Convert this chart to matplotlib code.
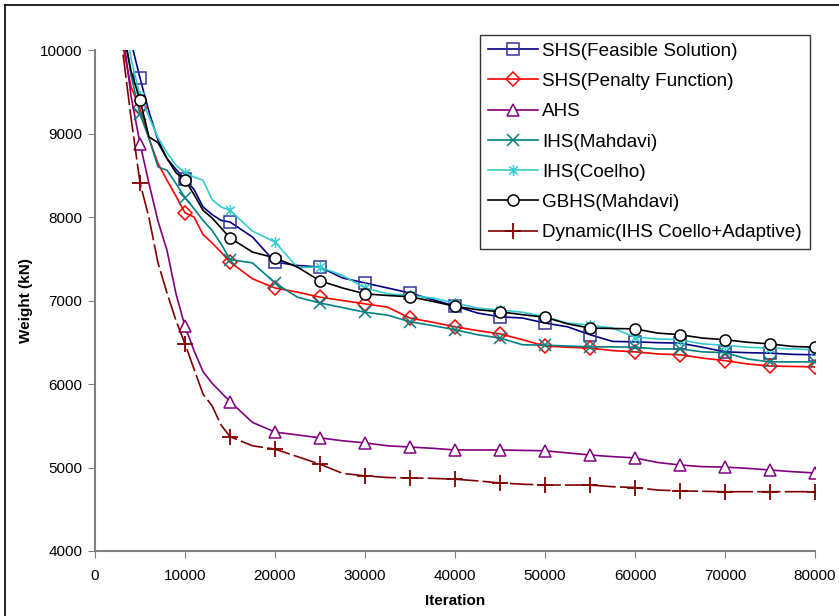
import matplotlib.pyplot as plt
from matplotlib.lines import Line2D
from matplotlib.path import Path

plt.rcParams['font.family'] = ['Liberation Sans', 'DejaVu Sans']

# iteration grid the curves were read at
iteration = [2500, 3000, 4000, 5000, 6000, 7000, 8000, 9000, 10000, 11000,
             12000, 13000, 14000, 15000, 17500, 20000, 22500, 25000, 27500, 30000,
             32500, 35000, 37500, 40000, 42500, 45000, 47500, 50000, 52500, 55000,
             57500, 60000, 62500, 65000, 67500, 70000, 72500, 75000, 77500, 80000]

# weight (kN) per algorithm
shs_feasible = [11000, 10800, 10100, 9665, 9260, 8920, 8700, 8570, 8450, 8330,
                8120, 8030, 7960, 7940, 7760, 7460, 7420, 7400, 7270, 7210,
                7150, 7090, 7010, 6935, 6850, 6805, 6790, 6730, 6685, 6590,
                6510, 6505, 6495, 6490, 6440, 6385, 6375, 6370, 6355, 6350]
shs_penalty = [10700, 10100, 9560, 9300, 8940, 8640, 8440, 8250, 8050, 8000,
               7790, 7690, 7580, 7460, 7260, 7150, 7100, 7040, 7000, 6960,
               6920, 6790, 6740, 6685, 6640, 6600, 6530, 6455, 6440, 6430,
               6400, 6385, 6360, 6350, 6310, 6280, 6240, 6215, 6210, 6205]
ahs = [10800, 10300, 9450, 8880, 8400, 7950, 7600, 7080, 6690, 6400,
       6150, 6010, 5900, 5790, 5540, 5425, 5390, 5355, 5320, 5295,
       5260, 5245, 5230, 5210, 5210, 5210, 5205, 5200, 5175, 5150,
       5130, 5115, 5060, 5030, 5010, 5005, 4990, 4970, 4950, 4935]
ihs_mahdavi = [10800, 10400, 9700, 9230, 8940, 8600, 8560, 8400, 8230, 8100,
               7960, 7840, 7680, 7490, 7450, 7210, 7040, 6970, 6915, 6860,
               6825, 6745, 6700, 6650, 6590, 6550, 6470, 6465, 6455, 6445,
               6445, 6440, 6420, 6420, 6385, 6375, 6300, 6265, 6265, 6265]
ihs_coelho = [11000, 10600, 9900, 9450, 9200, 8950, 8770, 8620, 8530, 8480,
              8440, 8210, 8120, 8080, 7830, 7700, 7395, 7400, 7300, 7150,
              7080, 7060, 7030, 6970, 6910, 6885, 6860, 6805, 6730, 6705,
              6670, 6560, 6540, 6530, 6480, 6465, 6440, 6430, 6420, 6410]
gbhs = [10700, 10300, 9750, 9400, 8960, 8890, 8700, 8530, 8445, 8270,
        8080, 7990, 7870, 7750, 7580, 7510, 7400, 7235, 7150, 7080,
        7060, 7045, 6990, 6930, 6890, 6865, 6830, 6800, 6720, 6670,
        6665, 6660, 6610, 6590, 6550, 6530, 6500, 6480, 6450, 6440]
dynamic = [10600, 10050, 9190, 8410, 7990, 7450, 7090, 6760, 6480, 6180,
           5880, 5740, 5510, 5370, 5260, 5220, 5130, 5040, 4930, 4900,
           4880, 4875, 4870, 4860, 4840, 4815, 4800, 4790, 4790, 4790,
           4770, 4760, 4730, 4720, 4715, 4710, 4710, 4710, 4710, 4710]

labels = ['SHS(Feasible Solution)', 'SHS(Penalty Function)', 'AHS',
          'IHS(Mahdavi)', 'IHS(Coelho)', 'GBHS(Mahdavi)',
          'Dynamic(IHS Coello+Adaptive)']

# Excel style asterisk: X plus vertical bar
star = Path([(-1, -1), (1, 1), (-1, 1), (1, -1), (0, -1.3), (0, 1.3)],
            [Path.MOVETO, Path.LINETO, Path.MOVETO, Path.LINETO, Path.MOVETO, Path.LINETO])

marks = [i for i, it in enumerate(iteration) if it % 5000 == 0]

fig = plt.figure(figsize=(8.39, 6.16), dpi=100)
ax = fig.add_axes([95/839, 1 - 551/616, 720/839, 501/616])

kw = dict(lw=1.2, markevery=marks, markersize=8, mew=1.1)
ax.plot(iteration, shs_feasible, color='#000080', marker='s', mfc='none', mec='#333399', label=labels[0], **kw)
ax.plot(iteration, shs_penalty, color='#FF0000', marker='D', mfc='none', mec='#FF0000', label=labels[1],
        lw=1.2, markevery=marks, markersize=7, mew=1.1)
ax.plot(iteration, ahs, color='#800080', marker='^', mfc='white', mec='#800080', label=labels[2], **kw)
ax.plot(iteration, ihs_mahdavi, color='#008080', marker='x', mec='#008080', label=labels[3], **kw)
ax.plot(iteration, ihs_coelho, color='#33CCCC', marker=star, mec='#33CCCC', label=labels[4], **kw)
ax.plot(iteration, gbhs, color='black', marker='o', mfc='white', mec='black', label=labels[5], **kw)
ax.plot(iteration, dynamic, color='#800000', marker='+', mec='#800000', ls=(0, (14, 2.5)), label=labels[6],
        lw=1.2, markevery=marks, markersize=11, mew=1.3)

ax.set_xlim(0, 80000)
ax.set_ylim(4000, 10000)
ax.set_xticks(range(0, 80001, 10000))
ax.set_yticks(range(4000, 10001, 1000))
for s in ['top', 'right']:
    ax.spines[s].set_visible(False)
for s in ['left', 'bottom']:
    ax.spines[s].set_color('#808080')
    ax.spines[s].set_linewidth(1.5)
ax.tick_params(direction='out', length=5, color='#808080', labelsize=11, pad=4)
ax.tick_params(axis='x', pad=8)
ax.set_xlabel('Iteration', fontsize=11, fontweight='bold', labelpad=8)
ax.set_ylabel('Weight (kN)', fontsize=11, fontweight='bold', labelpad=5)

leg = ax.legend(loc='upper left', bbox_to_anchor=(480/839, 1 - 35/616), bbox_transform=fig.transFigure,
                borderaxespad=0, fontsize=13.6, frameon=True, fancybox=False, edgecolor='black',
                handlelength=2.65, handletextpad=0.25, labelspacing=0.69, borderpad=0.4)
leg.get_frame().set_linewidth(1.0)

# outer chart border
fig.add_artist(Line2D([4.5/839, 4.5/839], [0, 1 - 4.5/616], color='black', lw=1.2, transform=fig.transFigure))
fig.add_artist(Line2D([4.5/839, 1], [1 - 4.5/616, 1 - 4.5/616], color='black', lw=1.2, transform=fig.transFigure))

fig.savefig('out.png', dpi=100)
